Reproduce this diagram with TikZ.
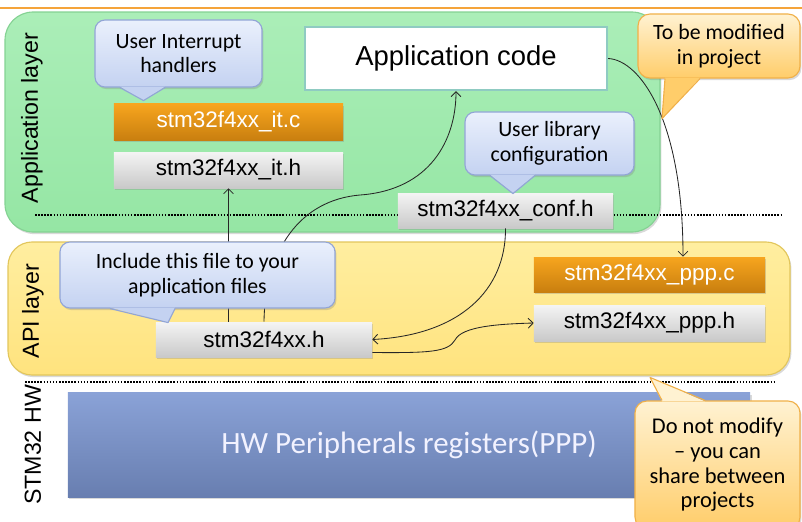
\documentclass[tikz,border=0pt]{standalone}
\usepackage{fontspec}
\setmainfont{Liberation Sans}
\newfontfamily\callfont[Ligatures=TeX]{Carlito}
\usetikzlibrary{calc, arrows.meta, positioning, shadows}

\definecolor{hTop}{HTML}{F4F4F4}
\definecolor{hBot}{HTML}{C9C9C9}
\definecolor{cTop}{HTML}{F7A51E}
\definecolor{cBot}{HTML}{C97F0F}
\definecolor{blueTop}{HTML}{EAF0FC}
\definecolor{blueBot}{HTML}{C4D2F1}
\definecolor{blueEdge}{HTML}{92A5D6}
\definecolor{orTop}{HTML}{FFF2D2}
\definecolor{orBot}{HTML}{FFCD6A}
\definecolor{orEdge}{HTML}{F0B048}
\definecolor{greenTop}{HTML}{ABEEB8}
\definecolor{greenBot}{HTML}{95E6A4}
\definecolor{greenEdge}{HTML}{84D293}
\definecolor{yellowTop}{HTML}{FFEEA0}
\definecolor{yellowBot}{HTML}{FFE37E}
\definecolor{yellowEdge}{HTML}{E2C65C}
\definecolor{hwTop}{HTML}{8AA2D7}
\definecolor{hwBot}{HTML}{687EB0}
\definecolor{ruleOrange}{HTML}{F5A43A}
\definecolor{codeEdge}{HTML}{8FCBC2}

\begin{document}
\begin{tikzpicture}[x=0.025cm, y=-0.025cm,
    softshadow/.style={drop shadow={shadow xshift=1pt, shadow yshift=-1.5pt, opacity=0.3}},
    layerlabel/.style={rotate=90, font=\fontsize{16.5}{18}\selectfont},
    filebox/.style={minimum width=5.725cm, minimum height=0.9cm, inner sep=0pt,
      font=\fontsize{16}{18}\selectfont, softshadow},
    hfile/.style={filebox, top color=hTop, bottom color=hBot, text=black},
    cfile/.style={filebox, top color=cTop, bottom color=cBot, text=white},
    callblue/.style={rounded corners=0.25cm, draw=blueEdge, line width=0.8pt,
      top color=blueTop, bottom color=blueBot, align=center, inner sep=0pt,
      font=\callfont\fontsize{15.5}{17.5}\selectfont, softshadow},
    callorange/.style={rounded corners=0.3cm, draw=orEdge, line width=0.8pt,
      top color=orTop, bottom color=orBot, align=center, inner sep=0pt,
      font=\callfont\fontsize{15.5}{17.5}\selectfont, softshadow},
    tipedge/.style={line width=0.8pt, line join=round},
    conn/.style={draw=black!85, line width=0.6pt, -{Straight Barb[length=3.5pt,width=7pt]}},
    sepline/.style={line width=1.1pt, dash pattern=on 1.1pt off 1.1pt}]
  \useasboundingbox (0,0) rectangle (802,521);

  % top rule
  \draw[ruleOrange, line width=1.4pt] (0,8) -- (802,8);

  % the two layers and the separators
  \draw[draw=greenEdge, line width=0.8pt, top color=greenTop, bottom color=greenBot,
    rounded corners=0.7cm, softshadow] (5,12) rectangle (660,232);
  \draw[draw=yellowEdge, line width=0.8pt, top color=yellowTop, bottom color=yellowBot,
    rounded corners=0.6cm, softshadow] (8,242) rectangle (790,375);
  \draw[sepline] (35,215) -- (783,215);
  \draw[sepline] (25,382) -- (776,382);

  \node[layerlabel] (lblApp) at (32,118) {Application layer};
  \node[layerlabel] (lblApi) at (33,311) {API layer};
  \node[layerlabel] (lblHw) at (33,445) {STM32 HW};

  % hardware block
  \node[minimum width=17.05cm, minimum height=2.6cm, inner sep=0pt, top color=hwTop,
    bottom color=hwBot, text=white!95!blue, font=\callfont\fontsize{22}{24}\selectfont,
    softshadow] (hw) at (409,445) {HW Peripherals registers(PPP)};

  % files
  \node[draw=codeEdge, line width=1.6pt, fill=white, minimum width=7.55cm,
    minimum height=1.575cm, font=\fontsize{19.5}{22}\selectfont] (appCode) at (456,58.5) {Application code};
  \node[cfile] (itC) at (228.5,122) {stm32f4xx\_it.c};
  \node[hfile] (itH) at (228.5,170) {stm32f4xx\_it.h};
  \node[hfile, minimum width=5.375cm, minimum height=0.875cm] (confH) at (505.5,210.5) {stm32f4xx\_conf.h};
  \node[hfile, minimum width=5.4cm, minimum height=0.875cm] (inc) at (264,339.5) {stm32f4xx.h};
  \node[cfile, minimum width=5.775cm, minimum height=0.875cm] (pppC) at (649.5,274.5) {stm32f4xx\_ppp.c};
  \node[hfile, minimum width=5.775cm] (pppH) at (649.5,323) {stm32f4xx\_ppp.h};

  % connectors
  \draw[conn] (itH.south |- inc.north) -- (itH.south);
  \draw[conn] (inc.north) .. controls (265,250) and (300,200) .. (360,195)
    .. controls (430,190) and (456,140) .. (appCode.south);
  \draw[conn] (appCode.east) .. controls (640,60) and (683,120) .. ($(pppC.north)+(33.5,0)$);
  \draw[conn] (confH.south) .. controls (506,290) and (460,335) .. (inc.east);
  \draw[conn] ($(inc.east)+(0,13)$) .. controls (430,353) and (448,352) .. (455,340)
    .. controls (462,326) and (500,324) .. (pppH.west);

  % callouts
  \node[callblue, minimum width=4.175cm, minimum height=1.675cm] (cbIrq) at (178.5,53.5) {User Interrupt\\handlers};
  \fill[blueBot] ($(cbIrq.south)+(-58.5,-1)$) -- ($(cbIrq.south)+(-35,13)$) -- ($(cbIrq.south)+(-13.5,-1)$) -- cycle;
  \draw[tipedge, blueEdge] ($(cbIrq.south)+(-58.5,0)$) -- ($(cbIrq.south)+(-35,13)$) -- ($(cbIrq.south)+(-13.5,0)$);

  \node[callblue, minimum width=4.225cm, minimum height=1.575cm] (cbConf) at (549.5,143.5) {User library\\configuration};
  \fill[blueBot] ($(cbConf.south)+(-59.5,-1)$) -- ($(cbConf.south)+(-36.5,18)$) -- ($(cbConf.south)+(-14.5,-1)$) -- cycle;
  \draw[tipedge, blueEdge] ($(cbConf.south)+(-59.5,0)$) -- ($(cbConf.south)+(-36.5,18)$) -- ($(cbConf.south)+(-14.5,0)$);

  \node[callblue, minimum width=6.875cm, minimum height=1.65cm] (cbInc) at (197.5,275) {Include this file to your\\application files};
  \fill[blueBot] ($(cbInc.south)+(-87.5,-1)$) -- ($(cbInc.south)+(-29.5,14)$) -- ($(cbInc.south)+(-22.5,-1)$) -- cycle;
  \draw[tipedge, blueEdge] ($(cbInc.south)+(-87.5,0)$) -- ($(cbInc.south)+(-29.5,14)$) -- ($(cbInc.south)+(-22.5,0)$);

  \node[callorange, minimum width=4.05cm, minimum height=1.6cm] (coModify) at (719,46) {To be modified\\in project};
  \fill[orBot] ($(coModify.south)+(-54,-1)$) -- ($(coModify.south)+(-57,40)$) -- ($(coModify.south)+(-19,-1)$) -- cycle;
  \draw[tipedge, orEdge] ($(coModify.south)+(-54,0)$) -- ($(coModify.south)+(-57,40)$) -- ($(coModify.south)+(-19,0)$);

  \node[callorange, minimum width=4.125cm, minimum height=3.2cm,
    font=\callfont\fontsize{16}{17.5}\selectfont] (coKeep) at (717.5,465) {Do not modify\\– you can\\share between\\projects};
  \fill[orTop] ($(coKeep.north)+(-55.5,1)$) -- ($(coKeep.north)+(-67.5,-23)$) -- ($(coKeep.north)+(-12.5,1)$) -- cycle;
  \draw[tipedge, orEdge] ($(coKeep.north)+(-55.5,0)$) -- ($(coKeep.north)+(-67.5,-23)$) -- ($(coKeep.north)+(-12.5,0)$);
\end{tikzpicture}
\end{document}
